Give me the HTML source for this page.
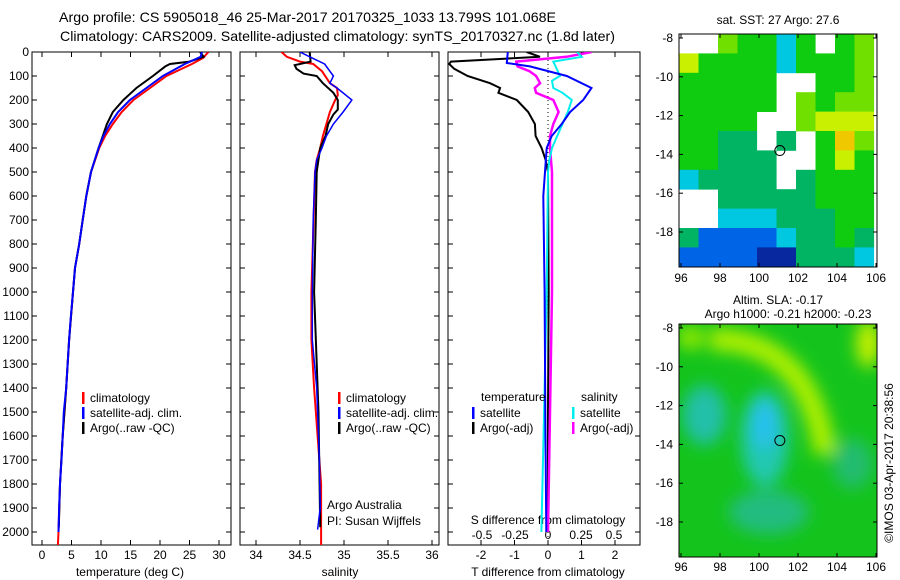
<!DOCTYPE html>
<html><head><meta charset="utf-8"><style>
body{margin:0;background:#fff;}
svg{display:block;font-family:"Liberation Sans",sans-serif;}
text{font-size:12px;fill:#000;}
</style></head><body>
<svg id="chart" width="900" height="580" viewBox="0 0 900 580">
<defs>
<filter id="blur" x="-30%" y="-30%" width="160%" height="160%"><feGaussianBlur stdDeviation="8"/></filter>
<clipPath id="c1"><rect x="32" y="52" width="199" height="493"/></clipPath>
<clipPath id="c2"><rect x="240" y="52" width="199" height="493"/></clipPath>
<clipPath id="c3"><rect x="448" y="52" width="192" height="493"/></clipPath>
<clipPath id="cm2"><rect x="679" y="324" width="198" height="233"/></clipPath>
</defs>
<text x="59" y="22" style="font-size:14px" textLength="497" lengthAdjust="spacingAndGlyphs">Argo profile: CS 5905018_46 25-Mar-2017 20170325_1033 13.799S 101.068E</text>
<text x="60" y="41" style="font-size:14px" textLength="555" lengthAdjust="spacingAndGlyphs">Climatology: CARS2009. Satellite-adjusted climatology: synTS_20170327.nc (1.8d later)</text>
<g id="g"></g>
</svg>
<script>
// ---- data ----
const tempDepthBlue=[0,20,50,100,150,200,250,300,350,400,500,600,700,800,900,1000,1100,1200,1400,1500,1600,1700,1800,1900,2000];
const tempBlue=[27.1,26.9,24.2,20.5,17.7,14.9,12.9,11.5,10.4,9.6,8.3,7.5,6.9,6.3,5.6,5.25,4.9,4.6,4.1,3.7,3.5,3.3,3.05,2.9,2.8];
const tempDepthRed=[0,25,50,100,150,200,250,300,350,400,500,600,700,800,900,1000,1200,1400,1600,1800,2000,2055];
const tempRed=[28.2,27.3,25.4,21.1,18.3,15.5,13.5,12.0,10.7,9.7,8.3,7.5,6.9,6.3,5.6,5.25,4.6,4.1,3.5,3.05,2.8,2.7];
const tempDepthArgo=[0,20,40,50,60,100,150,200,250,300,350,400,500,600,700,800,900,1000,1200,1400,1600,1800,1980];
const tempArgo=[26.8,27.4,25.0,21.7,20.9,18.8,16.0,13.8,12.0,11.0,10.3,9.6,8.3,7.5,6.9,6.3,5.6,5.25,4.6,4.1,3.5,3.05,2.85];

const salDepthBlue=[0,20,50,100,130,150,200,250,300,350,400,450,500,700,1000,1200,1400,1500,1700,1900,1990];
const salBlue=[34.5,34.61,34.78,34.88,34.84,34.92,35.09,34.99,34.88,34.8,34.75,34.69,34.67,34.65,34.64,34.64,34.69,34.70,34.72,34.73,34.70];
const salDepthRed=[0,20,40,50,80,130,150,180,200,250,300,350,400,450,500,1000,1200,1400,1800,2055];
const salRed=[34.29,34.35,34.5,34.65,34.75,34.84,34.92,34.93,34.9,34.84,34.8,34.76,34.73,34.69,34.67,34.63,34.63,34.66,34.74,34.74];
const salDepthArgo=[0,40,55,70,90,100,130,170,200,240,260,300,350,400,500,700,1000,1500,1980];
const salArgo=[34.61,34.62,34.44,34.46,34.54,34.69,34.76,34.88,34.93,34.93,34.88,34.82,34.79,34.73,34.69,34.68,34.66,34.71,34.73];

const dTDepthSat=[0,46,60,100,150,200,250,300,350,400,500,600,1000,1500,2000];
const dTSat=[-1.2,-1.23,-0.54,0.56,1.3,1.05,0.66,0.41,0.11,-0.04,-0.09,-0.14,-0.1,-0.08,-0.05];
const dTDepthArgo=[0,20,40,50,70,100,130,150,170,200,250,300,350,400,450,500,1000,1500,1980];
const dTArgo=[-0.64,-0.24,-2.9,-2.95,-2.8,-2.4,-1.73,-1.43,-1.48,-0.93,-0.59,-0.39,-0.37,-0.19,-0.07,0.0,0.02,0.0,0.0];
const dSDepthSat=[0,20,40,70,100,120,150,170,200,250,300,350,400,450,500,1000,2000];
const dSSat=[0.22,0.255,0.04,0.066,0.09,0.03,0.04,0.11,0.18,0.15,0.11,0.07,0.03,0.01,0.0,-0.01,-0.05];
const dSDepthArgo=[0,20,40,60,80,100,130,150,170,200,250,300,350,400,500,1000,2000];
const dSArgo=[0.33,0.14,-0.24,-0.23,-0.14,-0.09,-0.06,-0.1,-0.09,0.04,0.08,0.04,0.015,0.015,0.03,0.03,0.0];

const depthTicks=[0,100,200,300,400,500,600,700,800,900,1000,1100,1200,1300,1400,1500,1600,1700,1800,1900,2000];
const tempTicks=[0,5,10,15,20,25,30];
const salTicks=[34,34.5,35,35.5,36];
const salTickLabels=["34","34.5","35","35.5","36"];
const dTTicks=[-2,-1,0,1,2];
const dSTicks=[-0.5,-0.25,0,0.25,0.5];
const dSTickLabels=["-0.5","-0.25","0","0.25","0.5"];
const lonTicks=[96,98,100,102,104,106];
const latTicks=[-8,-10,-12,-14,-16,-18];
// SST map rows (lat -8 .. -20, 1 deg), cols lon 96..106
const sstRows=["wwlggcgwgl","yggggcgggl","gggggwwggl","gggggwlgll","ggggwwlyyy","ggttwtwgol","ggtttwwgyg","cttttwtggg","wwtttttggg","wwccctttgg","tbbbbcttgt","bbbbddtttc","wbwdddbbbb"];

// ---- scales ----
const yD=d=>52+d*0.24;
const xT=t=>42+t*5.9;
const xS=s=>256+(s-34)*88;
const xDT=t=>548+t*33.5;
const xDS=s=>548+s*132;
const xLon=l=>681+(l-96)*19.5;
const yLat1=l=>38+(-8-l)*19.4;
const yLat2=l=>328+(-8-l)*19.4;

const NS='http://www.w3.org/2000/svg';
const G=document.getElementById('g');
function el(tag,attrs,parent){const e=document.createElementNS(NS,tag);for(const k in attrs)e.setAttribute(k,attrs[k]);(parent||G).appendChild(e);return e;}
function txt(x,y,s,anchor,parent){const t=el('text',{x:x,y:y,'text-anchor':anchor||'start'},parent);t.textContent=s;return t;}

function line(xs,ds,xf,color,w,clip,name){
  const pts=xs.map((v,i)=>xf(v).toFixed(1)+','+yD(ds[i]).toFixed(1)).join(' ');
  const p=el('polyline',{points:pts,fill:'none',stroke:color,'stroke-width':w,'clip-path':'url(#'+clip+')'});
  
  
}

function panel(x0,x1,name){
  const r=el('rect',{x:x0,y:52,width:x1-x0,height:493,fill:'none',stroke:'#000','stroke-width':1});
  
  
  depthTicks.forEach(d=>{el('line',{x1:x0,x2:x0+5,y1:yD(d),y2:yD(d),stroke:'#000'});el('line',{x1:x1-5,x2:x1,y1:yD(d),y2:yD(d),stroke:'#000'});});
}
panel(32,231,'temperature-panel');
panel(240,439,'salinity-panel');
panel(448,640,'difference-panel');
depthTicks.forEach(d=>{const t=txt(29,yD(d)+4,String(d),'end');
  
  });
tempTicks.forEach(v=>{const x=xT(v);el('line',{x1:x,x2:x,y1:540,y2:545,stroke:'#000'});el('line',{x1:x,x2:x,y1:52,y2:57,stroke:'#000'});const t=txt(x,559,String(v),'middle');
  
  });
salTicks.forEach((v,i)=>{const x=xS(v);el('line',{x1:x,x2:x,y1:540,y2:545,stroke:'#000'});el('line',{x1:x,x2:x,y1:52,y2:57,stroke:'#000'});const t=txt(x,559,salTickLabels[i],'middle');
  
  });
dTTicks.forEach(v=>{const x=xDT(v);el('line',{x1:x,x2:x,y1:540,y2:545,stroke:'#000'});el('line',{x1:x,x2:x,y1:52,y2:57,stroke:'#000'});const t=txt(x,559,String(v),'middle');
  
  });
dSTicks.forEach((v,i)=>{const t=txt(xDS(v),539,dSTickLabels[i],'middle');
  
  });
el('line',{x1:548,x2:548,y1:52,y2:545,stroke:'#000','stroke-dasharray':'1,3'});

let t;
t=txt(130,576,'temperature (deg C)','middle');
t=txt(340,576,'salinity','middle');
t=txt(548,576,'T difference from climatology','middle');
t=txt(548,524,'S difference from climatology','middle');
t=txt(327,509,'Argo Australia');
t=txt(327,525,'PI: Susan Wijffels');

// series
line(tempRed,tempDepthRed,xT,'#f00',2,'c1','temp-climatology-line');
line(tempArgo,tempDepthArgo,xT,'#000',2,'c1','temp-argo-line');
line(tempBlue,tempDepthBlue,xT,'#00f',2,'c1','temp-satellite-line');
line(salRed,salDepthRed,xS,'#f00',2,'c2','sal-climatology-line');
line(salArgo,salDepthArgo,xS,'#000',2,'c2','sal-argo-line');
line(salBlue,salDepthBlue,xS,'#00f',1.5,'c2','sal-satellite-line');
line(dTArgo,dTDepthArgo,xDT,'#000',2,'c3','dT-argo-line');
line(dSArgo,dSDepthArgo,xDS,'#f0f',2.5,'c3','dS-argo-line');
line(dSSat,dSDepthSat,xDS,'#0ee',2,'c3','dS-satellite-line');
line(dTSat,dTDepthSat,xDT,'#00f',2,'c3','dT-satellite-line');

function legend(x,y,color,label,name){
  const g=el('g',{});
  
  
  el('rect',{x:x,y:y-9,width:2.5,height:12,fill:color},g);
  txt(x+8,y+1,label,'start',g);
}
legend(82,401,'#f00','climatology','legend-temp-climatology');
legend(82,416,'#00f','satellite-adj. clim.','legend-temp-satellite');
legend(82,431,'#000','Argo(..raw -QC)','legend-temp-argo');
legend(338,401,'#f00','climatology','legend-sal-climatology');
legend(338,416,'#00f','satellite-adj. clim.','legend-sal-satellite');
legend(338,431,'#000','Argo(..raw -QC)','legend-sal-argo');
t=txt(481,401,'temperature');
t=txt(581,401,'salinity');
legend(472,416,'#00f','satellite','legend-dT-satellite');
legend(472,431,'#000','Argo(-adj)','legend-dT-argo');
legend(572,416,'#0ee','satellite','legend-dS-satellite');
legend(572,431,'#f0f','Argo(-adj)','legend-dS-argo');

// ---- SST map ----
const cmap={w:'#fff',g:'#10cc10',l:'#70e000',y:'#c8f000',o:'#f0c800',t:'#00b464',c:'#00c8e0',b:'#0064e6',d:'#0828a0'};
const m1=el('g',{});


sstRows.forEach((row,r)=>{[...row].forEach((ch,c)=>{
  const y0=yLat1(-8-r)-4, y1=Math.min(yLat1(-9-r)-4,267);
  if(ch!=='w') el('rect',{x:xLon(96+c)-2,y:y0,width:19.6,height:Math.max(0,y1-y0+0.4),fill:cmap[ch]},m1);
});});
el('rect',{x:679,y:34,width:198,height:233,fill:'none',stroke:'#000'});
el('circle',{cx:xLon(101.07),cy:yLat1(-13.8),r:5,fill:'none',stroke:'#000'});
t=txt(778,24,'sat. SST: 27 Argo: 27.6','middle');

// ---- SLA map ----
const m2=el('g',{'clip-path':'url(#cm2)'});


el('rect',{x:679,y:324,width:198,height:233,fill:'#14c41c'},m2);
const bl=el('g',{filter:'url(#blur)'},m2);
el('ellipse',{cx:xLon(100.3),cy:yLat2(-13.7),rx:24,ry:48,fill:'#20c8b0'},bl);
el('ellipse',{cx:xLon(100.3),cy:yLat2(-13),rx:12,ry:24,fill:'#28c0f0'},bl);
el('ellipse',{cx:xLon(97.2),cy:yLat2(-12.5),rx:22,ry:30,fill:'#20c0a8'},bl);
el('ellipse',{cx:xLon(100.5),cy:yLat2(-17.5),rx:40,ry:22,fill:'#20bc80'},bl);
el('ellipse',{cx:xLon(104.8),cy:yLat2(-15),rx:20,ry:25,fill:'#20bc70'},bl);
el('path',{d:`M${xLon(97.5)},${yLat2(-8.6)} Q${xLon(102.5)},${yLat2(-8.5)} ${xLon(103.4)},${yLat2(-14.5)}`,fill:'none',stroke:'#b0f000','stroke-width':22},bl);
el('ellipse',{cx:xLon(105.6),cy:yLat2(-8.8),rx:12,ry:24,fill:'#c8f000'},bl);
el('ellipse',{cx:xLon(96.5),cy:yLat2(-8.5),rx:14,ry:12,fill:'#90e800'},bl);
el('rect',{x:679,y:324,width:198,height:233,fill:'none',stroke:'#000'});
el('circle',{cx:xLon(101.07),cy:yLat2(-13.8),r:5,fill:'none',stroke:'#000'});
t=txt(778,304,'Altim. SLA: -0.17','middle');
t=txt(788,318,'Argo h1000: -0.21 h2000: -0.23','middle');

// map axes
[[yLat1,34,267,282],[yLat2,324,557,571]].forEach(([yl,top,bot,ly])=>{
  lonTicks.forEach(v=>{const x=xLon(v);el('line',{x1:x,x2:x,y1:bot-4,y2:bot,stroke:'#000'});el('line',{x1:x,x2:x,y1:top,y2:top+4,stroke:'#000'});
    const tt=txt(x,ly,String(v),'middle');});
  latTicks.forEach(v=>{const y=yl(v);el('line',{x1:679,x2:683,y1:y,y2:y,stroke:'#000'});el('line',{x1:873,x2:877,y1:y,y2:y,stroke:'#000'});
    const tt=txt(673,y+4,String(v),'end');});
});
t=txt(0,0,'©IMOS 03-Apr-2017 20:38:56','middle');
t.setAttribute('transform','translate(893,463) rotate(-90)');

</script>
</body></html>
